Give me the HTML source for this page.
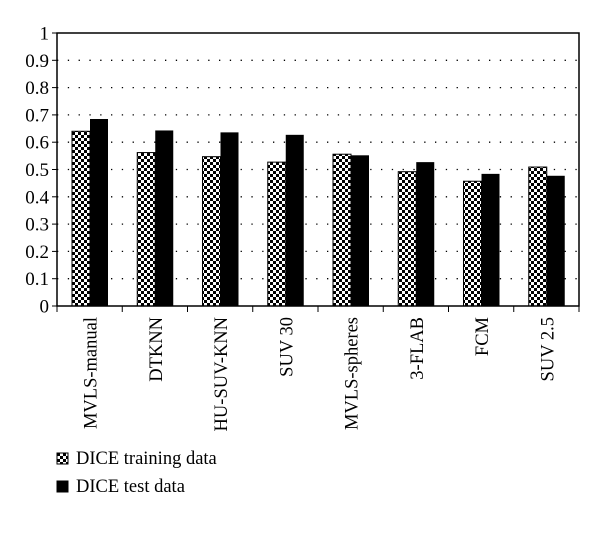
<!DOCTYPE html>
<html><head><meta charset="utf-8"><style>body{margin:0;background:#fff}svg{display:block;font-family:"Liberation Serif",serif}</style></head>
<body>
<svg id="c" width="600" height="540">
<defs><pattern id="chk" width="6" height="6" patternUnits="userSpaceOnUse"><rect width="6" height="6" fill="#fff"/><rect width="3" height="3" fill="#000"/><rect x="3" y="3" width="3" height="3" fill="#000"/></pattern></defs>
</svg>
<script>
const categories=["MVLS-manual","DTKNN","HU-SUV-KNN","SUV 30","MVLS-spheres","3-FLAB","FCM","SUV 2.5"];
const trainValues=[0.64,0.562,0.547,0.527,0.556,0.492,0.457,0.509];
const testValues=[0.685,0.643,0.636,0.627,0.552,0.527,0.484,0.477];
const yTicks=[0,0.1,0.2,0.3,0.4,0.5,0.6,0.7,0.8,0.9,1];
const yTickLabels=["0","0.1","0.2","0.3","0.4","0.5","0.6","0.7","0.8","0.9","1"];
const svg=document.getElementById('c');const NS='http://www.w3.org/2000/svg';
const L=57,R=579,T=33,B=306;
const y=v=>B-(B-T)*v;const gw=(R-L)/categories.length;const gx=i=>L+gw*i;
function el(t,a,p){const e=document.createElementNS(NS,t);for(const k in a)e.setAttribute(k,a[k]);(p||svg).appendChild(e);return e;}
yTicks.forEach((v,i)=>{
 if(v>0&&v<1){const g=el('line',{x1:L,x2:R,y1:y(v),y2:y(v),stroke:'#000','stroke-width':1.3,'stroke-dasharray':'1.3 9.5'});}
 const tk=el('line',{x1:L-5,x2:L,y1:y(v),y2:y(v),stroke:'#000'});
 const t=el('text',{x:L-8,y:y(v)+6.5,'text-anchor':'end','font-size':19});t.textContent=yTickLabels[i];
 
});
categories.forEach((c,i)=>{
 const b1=el('rect',{x:gx(i)+15,y:y(trainValues[i]),width:18,height:B-y(trainValues[i]),fill:'url(#chk)',stroke:'#000','stroke-width':1});
 
 const b2=el('rect',{x:gx(i)+33,y:y(testValues[i]),width:18,height:B-y(testValues[i]),fill:'#000'});
 
 const tk=el('line',{x1:gx(i),x2:gx(i),y1:B,y2:B+6,stroke:'#000'});
 const cx=gx(i)+gw/2;
 const t=el('text',{x:0,y:0,'text-anchor':'end','font-size':18.5,transform:`translate(${cx+7},317) rotate(-90)`});t.textContent=c;
 
});
const tk=el('line',{x1:R,x2:R,y1:B,y2:B+6,stroke:'#000'});
const f=el('rect',{x:L,y:T,width:R-L,height:B-T,fill:'none',stroke:'#000','stroke-width':1.5});
const lg=[["url(#chk)","DICE training data",463],["#000","DICE test data",491]];
lg.forEach((d,i)=>{const s=el('rect',{x:57,y:d[2]-10,width:11,height:11,fill:d[0],stroke:'#000'});
 const t=el('text',{x:76,y:d[2]+1,'font-size':18.5});t.textContent=d[1];});
</script>
</body></html>
